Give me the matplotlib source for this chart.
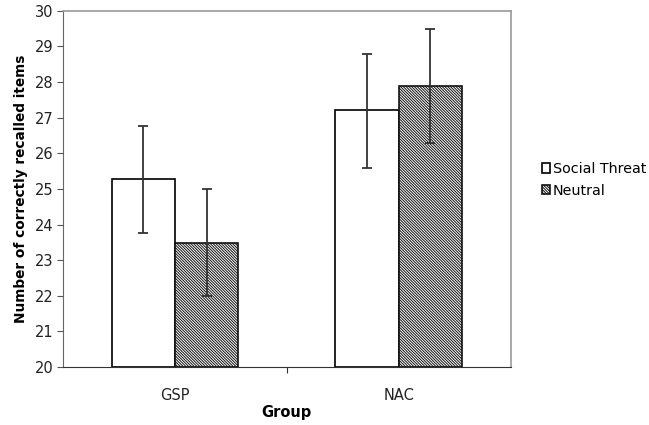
import numpy as np
import matplotlib
matplotlib.use('Agg')
import matplotlib.pyplot as plt

plt.rcParams['font.family'] = ['DejaVu Sans']
plt.rcParams['hatch.linewidth'] = 0.7
plt.rcParams['hatch.color'] = '#111111'

groups = ['GSP', 'NAC']
social = [25.28, 27.21]
social_err_lo = [23.77, 25.6]
social_err_hi = [26.78, 28.8]
neutral = [23.48, 27.9]
neutral_err_lo = [22.0, 26.28]
neutral_err_hi = [24.99, 29.5]

fig = plt.figure(figsize=(6.49, 4.25), dpi=100)
ax = fig.add_axes([0.097, 0.1365, 0.69, 0.838])

x = np.arange(len(groups))
w = 0.283

def yerr(vals, lo, hi):
    return [np.array(vals) - np.array(lo), np.array(hi) - np.array(vals)]

ax.bar(x - w / 2, np.array(social) - 20, w, bottom=20, color='white',
       edgecolor='black', linewidth=1.2, label='Social Threat')
ax.bar(x + w / 2, np.array(neutral) - 20, w, bottom=20, color='white',
       edgecolor='#111111', hatch='\\' * 12, linewidth=1.2, label='Neutral')
ax.errorbar(x - w / 2, social, yerr=yerr(social, social_err_lo, social_err_hi),
            fmt='none', ecolor='#333333', elinewidth=1.3, capsize=3.5, capthick=1.3)
ax.errorbar(x + w / 2, neutral, yerr=yerr(neutral, neutral_err_lo, neutral_err_hi),
            fmt='none', ecolor='#333333', elinewidth=1.3, capsize=3.5, capthick=1.3)

ax.set_xlim(-0.5, 1.5)
ax.set_ylim(20, 30)
ax.set_yticks(range(20, 31))
ax.set_xticks([0.5])
ax.set_xticklabels([''])
ax.tick_params(axis='x', length=4, color='#333333')
ax.tick_params(axis='y', length=4, labelsize=10.5, color='#555555', pad=3,
               labelcolor='#222222')
for i, g in enumerate(groups):
    ax.text(i, 19.4, g, ha='center', va='top', fontsize=10.5, color='#222222')

for s in ['top', 'right']:
    ax.spines[s].set_color('#999999')
    ax.spines[s].set_linewidth(1.2)
ax.spines['left'].set_color('#666666')
ax.spines['bottom'].set_color('#333333')

ax.set_ylabel('Number of correctly recalled items', fontsize=9.8,
              fontweight='bold', labelpad=5)
ax.set_xlabel('Group', fontsize=10.5, fontweight='bold', labelpad=20)

ax.legend(loc='center left', bbox_to_anchor=(1.04, 0.525), frameon=False,
          fontsize=10.3, handlelength=0.6, handleheight=0.6, handletextpad=0.2,
          labelspacing=0.55)

fig.savefig('out.png', dpi=100)
